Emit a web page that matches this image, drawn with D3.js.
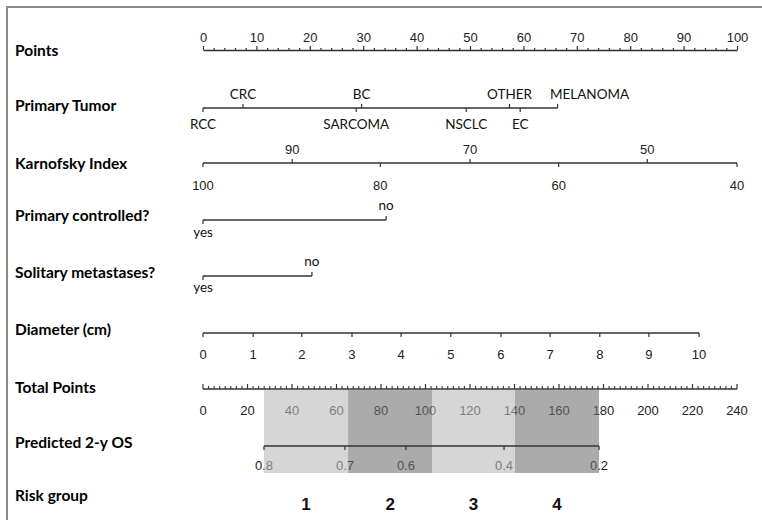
<!DOCTYPE html>
<html>
<head>
<meta charset="utf-8">
<script src="https://cdn.jsdelivr.net/npm/d3@7/dist/d3.min.js"></script>
<style>
  html, body { margin: 0; padding: 0; background: #fff; }
  svg { display: block; }
  .rowlab { font-family: Lato, "Open Sans", sans-serif; font-weight: bold; font-size: 15.5px; fill: #000; }
  .catlab { font-family: Lato, "Open Sans", sans-serif; font-size: 13.5px; fill: #111; }
  .numlab { font-family: "Liberation Sans", Arial, sans-serif; font-size: 13px; fill: #222; }
  .risklab { font-family: "Liberation Sans", Arial, sans-serif; font-size: 17px; font-weight: bold; fill: #111; }
</style>
</head>
<body>
<script>
// ---- nomogram data ----
const rowTitles = ["Points", "Primary Tumor", "Karnofsky Index", "Primary controlled?",
  "Solitary metastases?", "Diameter (cm)", "Total Points", "Predicted 2-y OS", "Risk group"];

const pointsMajor = [0, 10, 20, 30, 40, 50, 60, 70, 80, 90, 100];
const pointsMinor = [2, 4, 6, 8, 12, 14, 16, 18, 22, 24, 26, 28, 32, 34, 36, 38, 42, 44, 46, 48,
  52, 54, 56, 58, 62, 64, 66, 68, 72, 74, 76, 78, 82, 84, 86, 88, 92, 94, 96, 98];

const tumorNames  = ["RCC", "CRC", "SARCOMA", "BC", "NSCLC", "OTHER", "EC", "MELANOMA"];
const tumorPoints = [0, 7.5, 28.7, 29.7, 49.3, 57.4, 59.4, 66.4];
const tumorSide   = ["below", "above", "below", "above", "below", "above", "below", "above"];

const kpsValues = [100, 90, 80, 70, 60, 50, 40];
const kpsPoints = [0, 16.7, 33.2, 50, 66.6, 83.2, 100];
const kpsSide   = ["below", "above", "below", "above", "below", "above", "below"];

const controlledLevels = ["yes", "no"];
const controlledPoints = [0, 34.3];
const solitaryLevels = ["yes", "no"];
const solitaryPoints = [0, 20.4];

const diameterValues = [0, 1, 2, 3, 4, 5, 6, 7, 8, 9, 10];
const diameterPoints = [0, 9.4, 18.5, 27.9, 37.1, 46.4, 55.8, 65.0, 74.3, 83.5, 92.9];

const totalMajor = [0, 20, 40, 60, 80, 100, 120, 140, 160, 180, 200, 220, 240];
const totalMinor = [2.5, 5, 7.5, 10, 12.5, 15, 17.5];   // repeated within each 20-point span

const osValues = [0.8, 0.7, 0.6, 0.4, 0.2];
const osTotalPoints = [27.4, 63.8, 91.2, 135.3, 178];

const riskGroups = ["1", "2", "3", "4"];
const riskBounds = [27.4, 65.2, 103, 140.2, 178];   // total-point cut-offs
const riskShade  = ["light", "dark", "light", "dark"];

// ---- layout ----
const W = 762, H = 520;
const x0 = 203, x1 = 737;
const rowLine  = [50, 108, 163, 220, 276, 333, 389, 446, null];
const rowLabel = [56, 111, 169, 221, 278, 335, 393, 448, 501];
const ink = "#333";

const svg = d3.select("body").append("svg").attr("width", W).attr("height", H);

// outer frame (top and left edges)
svg.append("path").attr("d", `M7,${H} V7 H${W}`)
  .attr("fill", "none").attr("stroke", "#8c8c8c").attr("stroke-width", 2);

const pts = d3.scaleLinear().domain([0, 100]).range([x0, x1]);
const tot = d3.scaleLinear().domain([0, 240]).range([x0, x1]);

// row titles
svg.selectAll("text.rowlab").data(rowTitles).join("text")
  .attr("class", "rowlab").attr("x", 15).attr("y", (d, i) => rowLabel[i]).text(d => d);

function styleAxis(g) {
  g.selectAll("path.domain").attr("stroke", ink).attr("stroke-width", 1.3);
  g.selectAll(".tick line").attr("stroke", ink).attr("stroke-width", 1.2);
}

// Points axis (ticks and labels above the line)
{
  const y = rowLine[0];
  const gMinor = svg.append("g").attr("transform", `translate(0,${y})`)
    .call(d3.axisTop(pts).tickValues(pointsMinor).tickSize(2).tickSizeOuter(0).tickFormat(""));
  gMinor.select("path.domain").remove();
  const g = svg.append("g").attr("transform", `translate(0,${y})`)
    .call(d3.axisTop(pts).tickValues(pointsMajor).tickSize(4).tickSizeOuter(0).tickPadding(4));
  g.selectAll("text").attr("class", "numlab").attr("font-size", null).attr("font-family", null).attr("fill", null);
  styleAxis(g); styleAxis(gMinor);
}

// categorical / labelled scales drawn along the points scale
function labelledScale(y, labels, points, sides, cls, offs, nudge) {
  const g = svg.append("g");
  g.append("line").attr("x1", pts(d3.min(points))).attr("x2", pts(d3.max(points)))
    .attr("y1", y).attr("y2", y).attr("stroke", ink).attr("stroke-width", 1.3);
  labels.forEach((lab, i) => {
    const x = pts(points[i]);
    const up = sides[i] === "above";
    g.append("line").attr("x1", x).attr("x2", x).attr("y1", y).attr("y2", up ? y - 4 : y + 4)
      .attr("stroke", ink).attr("stroke-width", 1.2);
    const n = (nudge && nudge[lab]) || 0;
    g.append("text").attr("class", cls)
      .attr("x", x + n).attr("y", up ? y + offs[0] : y + offs[1])
      .attr("text-anchor", "middle").text(lab);
  });
}

labelledScale(rowLine[1], tumorNames, tumorPoints, tumorSide, "catlab", [-9, 21], { MELANOMA: 32 });
labelledScale(rowLine[2], kpsValues.map(String), kpsPoints, kpsSide, "numlab", [-9, 27]);
labelledScale(rowLine[3], controlledLevels, controlledPoints, ["below", "above"], "catlab", [-10, 17]);
labelledScale(rowLine[4], solitaryLevels, solitaryPoints, ["below", "above"], "catlab", [-10, 16]);
labelledScale(rowLine[5], diameterValues.map(String), diameterPoints,
  diameterValues.map(() => "below"), "numlab", [0, 26]);

// Total Points axis: ticks point up, labels below
{
  const y = rowLine[6];
  const minor = [];
  totalMajor.slice(0, -1).forEach(m => totalMinor.forEach(s => minor.push(m + s)));
  const g = svg.append("g");
  g.append("line").attr("x1", tot(0)).attr("x2", tot(240)).attr("y1", y).attr("y2", y)
    .attr("stroke", ink).attr("stroke-width", 1.3);
  g.selectAll("line.mn").data(minor).join("line").attr("class", "mn")
    .attr("x1", d => tot(d)).attr("x2", d => tot(d)).attr("y1", y).attr("y2", y - 3)
    .attr("stroke", ink).attr("stroke-width", 1.1);
  g.selectAll("line.mj").data(totalMajor).join("line").attr("class", "mj")
    .attr("x1", d => tot(d)).attr("x2", d => tot(d)).attr("y1", y).attr("y2", y - 5)
    .attr("stroke", ink).attr("stroke-width", 1.2);
  g.selectAll("text").data(totalMajor).join("text").attr("class", "numlab")
    .attr("x", d => tot(d)).attr("y", y + 26).attr("text-anchor", "middle").text(d => d);
}

// Predicted 2-y OS labels (drawn beneath the risk shading)
const osY = rowLine[7];
svg.append("g").selectAll("text").data(osValues).join("text").attr("class", "numlab")
  .attr("x", (d, i) => tot(osTotalPoints[i])).attr("y", osY + 24)
  .attr("text-anchor", "middle").text(d => d);

// risk group shading across Total Points / Predicted OS
const bandTop = rowLine[6] + 1, bandBottom = 473;
svg.append("g").selectAll("rect").data(riskGroups).join("rect")
  .attr("x", (d, i) => tot(riskBounds[i]))
  .attr("width", (d, i) => tot(riskBounds[i + 1]) - tot(riskBounds[i]))
  .attr("y", bandTop).attr("height", bandBottom - bandTop)
  .attr("fill", (d, i) => riskShade[i] === "light" ? "#bababa" : "#737373")
  .attr("fill-opacity", 0.6);

// Predicted OS axis line and ticks on top of the shading
{
  const g = svg.append("g");
  g.append("line").attr("x1", tot(d3.max(osTotalPoints.map((p, i) => osTotalPoints[0]))))
    .attr("x2", tot(osTotalPoints[osTotalPoints.length - 1]))
    .attr("y1", osY).attr("y2", osY).attr("stroke", ink).attr("stroke-width", 1.3);
  g.selectAll("line.t").data(osTotalPoints).join("line").attr("class", "t")
    .attr("x1", d => tot(d)).attr("x2", d => tot(d)).attr("y1", osY).attr("y2", osY + 4)
    .attr("stroke", ink).attr("stroke-width", 1.2);
}

// risk group numbers centred in each band
svg.append("g").selectAll("text").data(riskGroups).join("text").attr("class", "risklab")
  .attr("x", (d, i) => tot((riskBounds[i] + riskBounds[i + 1]) / 2))
  .attr("y", 510).attr("text-anchor", "middle").text(d => d);
</script>
</body>
</html>
